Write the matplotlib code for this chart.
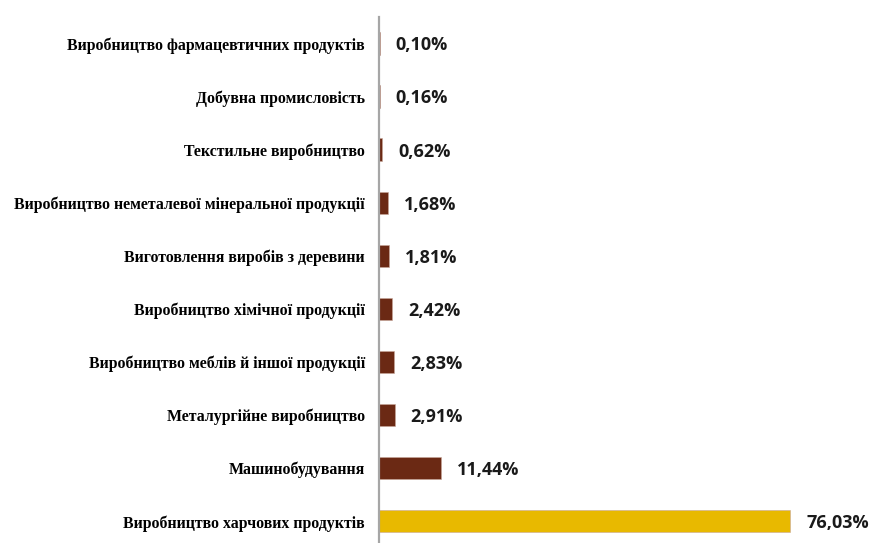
import matplotlib
matplotlib.use("Agg")
import matplotlib.pyplot as plt

categories = [
    "Виробництво фармацевтичних продуктів",
    "Добувна промисловість",
    "Текстильне виробництво",
    "Виробництво неметалевої мінеральної продукції",
    "Виготовлення виробів з деревини",
    "Виробництво хімічної продукції",
    "Виробництво меблів й іншої продукції",
    "Металургійне виробництво",
    "Машинобудування",
    "Виробництво харчових продуктів",
]
values = [0.10, 0.16, 0.62, 1.68, 1.81, 2.42, 2.83, 2.91, 11.44, 76.03]
labels = ["0,10%", "0,16%", "0,62%", "1,68%", "1,81%", "2,42%", "2,83%", "2,91%", "11,44%", "76,03%"]

BROWN = "#6B2914"
GOLD = "#E8B900"
AXIS = "#A6A6A6"

fig = plt.figure(figsize=(8.83, 5.43), dpi=100)
ax = fig.add_axes([379 / 883, -0.009, 504 / 883, 0.978])

colors = [GOLD if v == max(values) else BROWN for v in values]
ypos = list(range(len(categories)))[::-1]
ax.barh(ypos, values, height=0.42, color=colors, edgecolor="#C9A89A", linewidth=0.4)

ax.set_xlim(0, 93.2)
ax.set_ylim(-0.5, len(categories) - 0.5)

for y, v, lab in zip(ypos, values, labels):
    ax.annotate(lab, (v, y), xytext=(16, -2), textcoords="offset pixels",
                ha="left", va="center", fontsize=13, fontweight="bold",
                family="Open Sans", color="#1A1A1A")

ax.set_yticks(ypos)
ax.set_yticklabels(categories, family="Liberation Serif", fontweight="bold", fontsize=11.4)
ax.tick_params(axis="y", length=0, pad=10)
ax.set_xticks([])

for s in ["top", "right", "bottom"]:
    ax.spines[s].set_visible(False)
ax.spines["left"].set_color(AXIS)
ax.spines["left"].set_linewidth(1.6)

fig.savefig("out.png", dpi=100)
